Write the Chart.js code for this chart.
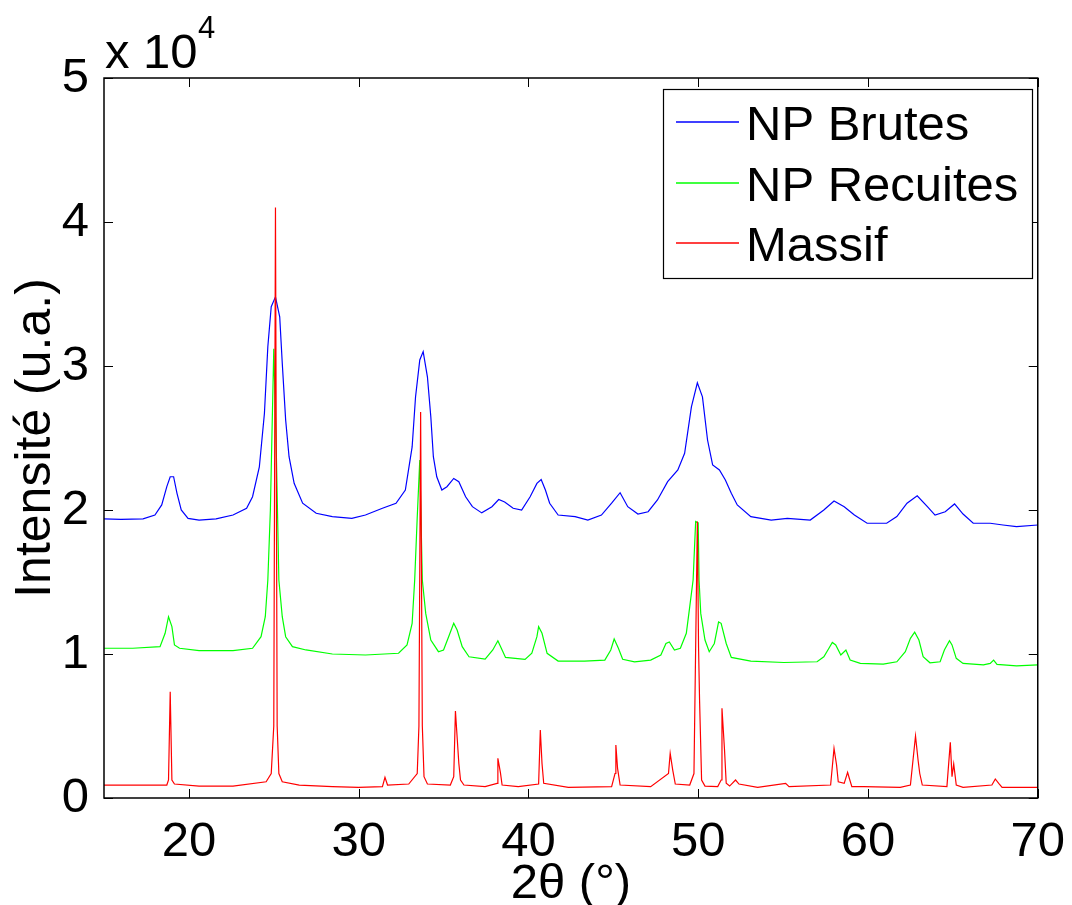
<!DOCTYPE html>
<html>
<head>
<meta charset="utf-8">
<script src="https://cdn.jsdelivr.net/npm/chart.js@4.4.0/dist/chart.umd.min.js"></script>
<style>
  html, body { margin: 0; padding: 0; background: #fff; }
  canvas { display: block; }
</style>
</head>
<body>
<canvas id="xrd" width="1072" height="905"></canvas>
<script>
// axis ticks
const xTicks = [20, 30, 40, 50, 60, 70];
const yTicks = [0, 10000, 20000, 30000, 40000, 50000];

const seriesNames = ['NP Brutes', 'NP Recuites', 'Massif'];
const seriesColors = ['rgb(0, 0, 255)', 'rgb(0, 255, 0)', 'rgb(255, 0, 0)'];

// NP Brutes (blue)
const brutesX = [15.0, 16.0, 17.3, 18.0, 18.4, 18.7, 18.9, 19.1, 19.3, 19.55, 19.95, 20.6, 21.6, 22.6, 23.4, 23.75, 24.15, 24.45, 24.65, 24.85,
  25.1, 25.35, 25.5, 25.7, 25.9, 26.2, 26.7, 27.5, 28.45, 29.6, 30.4, 31.4, 32.2, 32.75, 33.15, 33.35, 33.6, 33.8, 34.05, 34.25,
  34.4, 34.6, 34.9, 35.2, 35.6, 35.9, 36.3, 36.7, 37.25, 37.85, 38.25, 38.6, 39.1, 39.6, 40.1, 40.5, 40.75, 41.0, 41.25, 41.75,
  42.75, 43.5, 44.3, 44.9, 45.4, 45.85, 46.45, 47.05, 47.6, 48.2, 48.8, 49.2, 49.6, 49.95, 50.25, 50.55, 50.85, 51.25, 51.6, 51.95,
  52.3, 53.1, 54.3, 55.25, 56.6, 57.4, 58.0, 58.6, 59.2, 59.95, 61.1, 61.7, 62.3, 62.9, 63.5, 63.95, 64.55, 65.1, 65.6, 66.2,
  67.2, 67.95, 68.75, 70.0];
const brutesY = [19380, 19350, 19380, 19650, 20350, 21620, 22310, 22310, 21160, 20000, 19420, 19300, 19380, 19650, 20120, 20920, 23000, 26720, 31340, 34120,
  34800, 33420, 30190, 26250, 23700, 21850, 20470, 19770, 19540, 19420, 19650, 20120, 20470, 21390, 24380, 27850, 30420, 31000, 29250, 26480,
  23700, 22310, 21390, 21620, 22190, 21970, 20920, 20230, 19800, 20230, 20730, 20560, 20120, 20000, 20920, 21850, 22120, 21390, 20470, 19650,
  19540, 19300, 19650, 20470, 21200, 20230, 19720, 19880, 20700, 21970, 22780, 23940, 27160, 28830, 27860, 24860, 23130, 22780, 22080, 21160,
  20350, 19540, 19300, 19420, 19300, 20000, 20630, 20230, 19650, 19080, 19080, 19540, 20470, 20980, 20230, 19650, 19880, 20420, 19720, 19080,
  19080, 18960, 18840, 18960];

// NP Recuites (green)
const recuitesX = [15.0, 16.7, 18.3, 18.6, 18.8, 19.0, 19.15, 19.45, 20.6, 22.6, 23.75, 24.25, 24.5, 24.65, 24.8, 25.0, 25.15, 25.3, 25.5, 25.7,
  26.1, 26.9, 28.45, 30.4, 32.35, 32.85, 33.15, 33.3, 33.45, 33.6, 33.75, 33.95, 34.25, 34.7, 35.0, 35.3, 35.6, 35.8, 36.1, 36.5,
  37.45, 37.9, 38.2, 38.45, 38.65, 39.8, 40.2, 40.5, 40.6, 40.8, 41.1, 41.75, 43.3, 44.5, 44.85, 45.05, 45.3, 45.55, 46.25, 47.2,
  47.8, 48.1, 48.3, 48.6, 48.95, 49.3, 49.5, 49.7, 49.85, 50.0, 50.05, 50.15, 50.4, 50.65, 50.95, 51.2, 51.35, 51.65, 51.95, 53.1,
  55.05, 57.0, 57.4, 57.7, 57.9, 58.1, 58.4, 58.7, 58.95, 59.55, 60.9, 61.7, 62.2, 62.5, 62.75, 63.0, 63.25, 63.65, 64.25, 64.5,
  64.8, 64.95, 65.2, 65.6, 66.8, 67.2, 67.4, 67.6, 68.75, 70.0];
const recuitesY = [10400, 10400, 10510, 11440, 12590, 11900, 10630, 10400, 10230, 10230, 10400, 11200, 12590, 15140, 20000, 31200, 24000, 15140, 12590, 11200,
  10510, 10280, 10000, 9930, 10050, 10630, 12130, 15140, 19500, 23470, 15140, 12820, 10970, 10160, 10280, 11200, 12130, 11670, 10510, 9810,
  9650, 10280, 10920, 10280, 9760, 9630, 10050, 11200, 11900, 11440, 10050, 9510, 9510, 9580, 10280, 11040, 10400, 9630, 9460, 9580,
  9930, 10730, 10840, 10280, 10400, 11440, 13270, 15140, 19200, 19100, 15140, 12820, 10970, 10160, 10730, 12230, 12130, 10730, 9760, 9510,
  9410, 9460, 9810, 10400, 10800, 10630, 9930, 10280, 9580, 9350, 9300, 9460, 10160, 11090, 11510, 10970, 9810, 9390, 9460, 10280,
  10920, 10630, 9700, 9350, 9240, 9350, 9580, 9280, 9170, 9240];

// Massif (red)
const massifX = [15.0, 18.7, 18.8, 18.9, 19.0, 19.15, 20.6, 22.6, 24.55, 24.85, 25.0, 25.1, 25.2, 25.3, 25.5, 26.5, 28.45, 30.0, 31.4, 31.55,
  31.7, 32.95, 33.45, 33.55, 33.65, 33.75, 33.85, 34.05, 35.4, 35.6, 35.7, 35.9, 36.0, 36.2, 37.45, 38.15, 38.2, 38.35, 38.45, 39.4,
  40.6, 40.7, 40.8, 40.9, 42.35, 44.9, 45.1, 45.15, 45.25, 45.4, 47.2, 48.25, 48.35, 48.5, 48.65, 49.5, 49.75, 49.95, 50.02, 50.08,
  50.2, 50.4, 51.15, 51.35, 51.4, 51.55, 51.65, 51.85, 52.2, 52.4, 53.5, 55.15, 55.35, 57.8, 58.0, 58.15, 58.25, 58.6, 58.8, 58.9,
  59.05, 59.75, 61.9, 62.5, 62.8, 62.95, 63.05, 63.2, 64.65, 64.85, 64.95, 65.05, 65.2, 65.6, 67.3, 67.5, 67.7, 67.9, 70.0];
const massifY = [900, 900, 1250, 7380, 1250, 970, 830, 830, 1130, 1700, 5000, 41000, 5000, 1700, 1130, 900, 790, 740, 790, 1440,
  900, 970, 1700, 5000, 26800, 5000, 1480, 970, 900, 1480, 6040, 2410, 1250, 900, 790, 1020, 2760, 1760, 900, 790,
  970, 4720, 2400, 1020, 740, 790, 1700, 3680, 2060, 900, 790, 1700, 3100, 1940, 970, 900, 1700, 19200, 10500, 6800,
  1250, 830, 790, 1250, 6230, 3330, 1020, 830, 1250, 970, 740, 1020, 790, 900, 3450, 2290, 1130, 1020, 1780, 1370,
  790, 790, 740, 900, 4310, 2640, 1700, 900, 790, 3870, 1480, 2360, 900, 740, 900, 1320, 1020, 740, 740];

const FONT = '"Liberation Sans", Arial, sans-serif';
const FS = 49;

function points(xs, ys) {
  return xs.map((x, i) => ({x: x, y: ys[i]}));
}

// box, inward ticks, legend and the x 10^4 factor, drawn over the data like MATLAB does
const matlabAxes = {
  id: 'matlabAxes',
  afterDatasetsDraw(chart) {
    const {ctx, chartArea: a, scales} = chart;
    ctx.save();
    ctx.strokeStyle = '#000';
    ctx.lineWidth = 1.5;
    ctx.strokeRect(a.left, a.top, a.right - a.left, a.bottom - a.top);
    ctx.lineWidth = 1;
    const tl = 9;
    ctx.beginPath();
    xTicks.forEach(v => {
      const px = Math.round(scales.x.getPixelForValue(v)) + 0.5;
      ctx.moveTo(px, a.bottom); ctx.lineTo(px, a.bottom - tl);
      ctx.moveTo(px, a.top); ctx.lineTo(px, a.top + tl);
    });
    yTicks.forEach(v => {
      const py = Math.round(scales.y.getPixelForValue(v)) + 0.5;
      ctx.moveTo(a.left, py); ctx.lineTo(a.left + tl, py);
      ctx.moveTo(a.right, py); ctx.lineTo(a.right - tl, py);
    });
    ctx.stroke();

    // exponent
    ctx.fillStyle = '#000';
    ctx.textBaseline = 'alphabetic';
    ctx.textAlign = 'left';
    ctx.font = FS + 'px ' + FONT;
    ctx.fillText('x 10', 105, 68);
    ctx.font = '31px ' + FONT;
    ctx.fillText('4', 198, 38);

    // legend
    const lx = 663, ly = 89, lw = 369, lh = 189;
    ctx.fillStyle = '#fff';
    ctx.fillRect(lx, ly, lw, lh);
    ctx.strokeStyle = '#000';
    ctx.lineWidth = 1.2;
    ctx.strokeRect(lx + 0.5, ly + 0.5, lw, lh);
    ctx.font = FS + 'px ' + FONT;
    seriesNames.forEach((name, i) => {
      const y = Math.round(122 + i * 60.5);
      ctx.strokeStyle = seriesColors[i];
      ctx.lineWidth = 1.5;
      ctx.beginPath();
      ctx.moveTo(676, y);
      ctx.lineTo(739, y);
      ctx.stroke();
      ctx.fillStyle = '#000';
      ctx.fillText(name, 746, y + 18);
    });
    ctx.restore();
  }
};

new Chart(document.getElementById('xrd').getContext('2d'), {
  type: 'line',
  data: {
    datasets: [
      {label: seriesNames[0], data: points(brutesX, brutesY), borderColor: seriesColors[0], borderWidth: 1.2, order: 3},
      {label: seriesNames[1], data: points(recuitesX, recuitesY), borderColor: seriesColors[1], borderWidth: 1.2, order: 2},
      {label: seriesNames[2], data: points(massifX, massifY), borderColor: seriesColors[2], borderWidth: 1.2, order: 1}
    ]
  },
  options: {
    responsive: false,
    animation: false,
    devicePixelRatio: 1,
    layout: {padding: {top: 78, right: 31, left: 0, bottom: 0}},
    elements: {point: {radius: 0}, line: {tension: 0, fill: false}},
    plugins: {legend: {display: false}, tooltip: {enabled: false}},
    scales: {
      x: {
        type: 'linear',
        min: 15,
        max: 70,
        grid: {display: false},
        border: {display: false},
        afterBuildTicks: s => { s.ticks = xTicks.map(v => ({value: v})); },
        afterFit: s => { s.height = 107; },
        ticks: {font: {family: FONT, size: FS}, color: '#000', padding: 7, maxRotation: 0, autoSkip: false},
        title: {display: true, text: '2θ (°)', color: '#000',
                font: {family: FONT, size: FS, lineHeight: 0.8}, padding: {top: 0, bottom: 1}}
      },
      y: {
        type: 'linear',
        min: 0,
        max: 50000,
        grid: {display: false},
        border: {display: false},
        afterBuildTicks: s => { s.ticks = yTicks.map(v => ({value: v})); },
        afterFit: s => { s.width = 104; },
        ticks: {font: {family: FONT, size: FS}, color: '#000', padding: 7,
                callback: v => String(v / 10000)},
        title: {display: true, text: 'Intensité (u.a.)', color: '#000',
                font: {family: FONT, size: 50}, padding: {top: 6, bottom: 0}}
      }
    }
  },
  plugins: [matlabAxes]
});
</script>
</body>
</html>
